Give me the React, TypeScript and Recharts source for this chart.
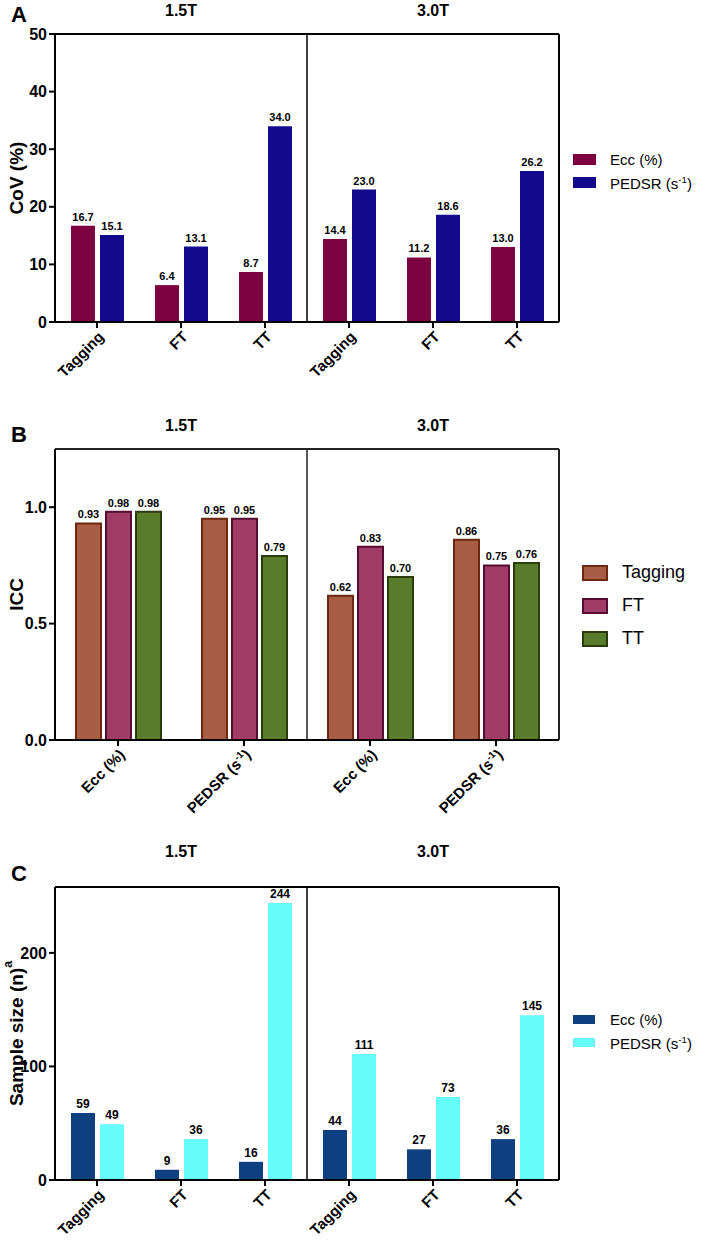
import { BarChart, Bar, XAxis, YAxis, ReferenceLine, LabelList, Label } from 'recharts'

const FONT = '"Liberation Sans", Arial, Helvetica, sans-serif'
const WIDTH = 709

const FIELDS = ['1.5T', '3.0T']
const METHODS = ['Tagging', 'FT', 'TT']
const PARAMS = ['Ecc (%)', 'PEDSR (s^{-1})']

// A: coefficient of variation (%), order = 1.5T Tagging/FT/TT, 3.0T Tagging/FT/TT
const covEcc = [16.7, 6.4, 8.7, 14.4, 11.2, 13.0]
const covPedsr = [15.1, 13.1, 34.0, 23.0, 18.6, 26.2]
const covTicks = [0, 10, 20, 30, 40, 50]

// B: ICC, order = 1.5T Ecc/PEDSR, 3.0T Ecc/PEDSR
const iccTagging = [0.93, 0.95, 0.62, 0.86]
const iccFT = [0.98, 0.95, 0.83, 0.75]
const iccTT = [0.98, 0.79, 0.70, 0.76]
const iccTicks = [0, 0.5, 1.0]

// C: sample size
const nEcc = [59, 9, 16, 44, 27, 36]
const nPedsr = [49, 36, 244, 111, 73, 145]
const nTicks = [0, 100, 200]

const methodRows = (a: number[], b: number[]) =>
  FIELDS.flatMap((f, i) => METHODS.map((m, j) => ({ key: `${f}|${m}`, ecc: a[i * 3 + j], pedsr: b[i * 3 + j] })))

const iccRows = FIELDS.flatMap((f, i) =>
  PARAMS.map((p, j) => ({ key: `${f}|${p}`, tagging: iccTagging[i * 2 + j], ft: iccFT[i * 2 + j], tt: iccTT[i * 2 + j] }))
)

type Series = { key: string; name: string; fill: string; stroke?: string }

const seriesA: Series[] = [
  { key: 'ecc', name: 'Ecc (%)', fill: '#7d0040' },
  { key: 'pedsr', name: 'PEDSR (s^{-1})', fill: '#13098c' },
]
const seriesB: Series[] = [
  { key: 'tagging', name: 'Tagging', fill: '#a85d45', stroke: '#6e2810' },
  { key: 'ft', name: 'FT', fill: '#9f3d66', stroke: '#560c30' },
  { key: 'tt', name: 'TT', fill: '#587c2c', stroke: '#2b3c0c' },
]
const seriesC: Series[] = [
  { key: 'ecc', name: 'Ecc (%)', fill: '#0e3f80' },
  { key: 'pedsr', name: 'PEDSR (s^{-1})', fill: '#66fcfc' },
]

// split "abc^{sup}def" into plain / superscript parts (odd indexes are superscripts)
const richParts = (text: string) => text.split(/\^\{([^}]*)\}/)

function svgRich(text: string, size: number) {
  const out: any[] = []
  const shift = size * 0.4
  richParts(text).forEach((p, i) => {
    if (!p) return
    if (i % 2) out.push(<tspan key={i} fontSize={size * 0.65} dy={-shift}>{p}</tspan>)
    else out.push(<tspan key={i} dy={i > 0 ? shift : undefined}>{p}</tspan>)
  })
  return out
}

function htmlRich(text: string) {
  return richParts(text).map((p, i) => (i % 2 ? <sup key={i} style={{ fontSize: '0.65em' }}>{p}</sup> : <span key={i}>{p}</span>))
}

const AngledTick = (props: any) => {
  const { x, y, payload } = props
  const label = String(payload.value).split('|')[1]
  return (
    <g transform={`translate(${x},${y}) rotate(-45)`}>
      <text x={0} y={11} textAnchor="end" fontSize={15} fontWeight="bold" fill="#000">
        {svgRich(label, 15)}
      </text>
    </g>
  )
}

const yTitle = (text: string, size: number) => (props: any) => {
  const vb = props.viewBox
  const cx = 16
  const cy = vb.y + vb.height / 2
  return (
    <text x={cx} y={cy} transform={`rotate(-90, ${cx}, ${cy})`} textAnchor="middle" dominantBaseline="central" fontSize={size} fontWeight="bold" fill="#000">
      {svgRich(text, size)}
    </text>
  )
}

interface LegendBoxProps {
  series: Series[]
  sw: number
  sh: number
  rowH: number
  textLeft: number
  fontSize: number
  left: number
  top: number
}

function LegendBox({ series, sw, sh, rowH, textLeft, fontSize, left, top }: LegendBoxProps) {
  return (
    <div style={{ position: 'absolute', left, top, fontFamily: FONT, fontSize, color: '#000' }}>
      {series.map(s => (
        <div key={s.key} style={{ display: 'flex', alignItems: 'center', height: rowH }}>
          <span
            style={{
              display: 'inline-block',
              boxSizing: 'border-box',
              width: sw,
              height: sh,
              background: s.fill,
              border: s.stroke ? `2px solid ${s.stroke}` : 'none',
            }}
          />
          <span style={{ marginLeft: textLeft - sw, whiteSpace: 'nowrap' }}>{htmlRich(s.name)}</span>
        </div>
      ))}
    </div>
  )
}

interface PanelProps {
  top: number
  height: number
  letter: string
  letterTop: number
  titleTop: number
  plotTop: number
  axisHeight: number
  data: any[]
  series: Series[]
  yMax: number
  yTicks: number[]
  yFormat: (v: number) => string
  yLabel: string
  yLabelSize: number
  barSize: number
  barGap: number
  valueFormat: (v: number) => string
  valueSize: number
  frameColor: string
  legend: LegendBoxProps
}

const PLOT_LEFT = 55
const PLOT_RIGHT = 559

function Panel(p: PanelProps) {
  const half = (PLOT_RIGHT - PLOT_LEFT) / 2
  // hidden index axis spanning the plot: used for the right frame edge and the 1.5T / 3.0T divider
  const last = p.data.length - 1
  return (
    <div style={{ position: 'absolute', left: 0, top: p.top, width: WIDTH, height: p.height }}>
      <div style={{ position: 'absolute', left: 11, top: p.letterTop, fontSize: 22, lineHeight: '22px', fontWeight: 'bold' }}>{p.letter}</div>
      {FIELDS.map((f, i) => (
        <div
          key={f}
          style={{
            position: 'absolute',
            left: PLOT_LEFT + half * i,
            width: half,
            top: p.titleTop,
            textAlign: 'center',
            fontSize: 16,
            lineHeight: '16px',
            fontWeight: 'bold',
          }}
        >
          {f}
        </div>
      ))}
      <BarChart
        width={WIDTH}
        height={p.height}
        data={p.data}
        margin={{ top: p.plotTop, right: WIDTH - PLOT_RIGHT, bottom: 0, left: 0 }}
        barGap={p.barGap}
      >
        <XAxis
          dataKey="key"
          interval={0}
          height={p.axisHeight}
          tick={<AngledTick />}
          tickLine={{ stroke: '#000', strokeWidth: 2 }}
          tickSize={6}
          tickMargin={2}
          axisLine={{ stroke: '#000', strokeWidth: 2 }}
        />
        <XAxis xAxisId="frame" type="number" domain={[0, last]} allowDataOverflow hide />
        <YAxis
          width={PLOT_LEFT}
          domain={[0, p.yMax]}
          ticks={p.yTicks}
          tickFormatter={p.yFormat}
          interval={0}
          tick={{ fontSize: 16, fontWeight: 'bold', fill: '#000' }}
          tickLine={{ stroke: '#000', strokeWidth: 2 }}
          tickSize={6}
          tickMargin={2}
          axisLine={{ stroke: '#000', strokeWidth: 2 }}
          label={<Label content={yTitle(p.yLabel, p.yLabelSize)} />}
        />
        <ReferenceLine y={p.yMax} stroke={p.frameColor} strokeWidth={2} />
        <ReferenceLine xAxisId="frame" x={last} stroke={p.frameColor} strokeWidth={2} />
        <ReferenceLine xAxisId="frame" x={last / 2} stroke={p.frameColor} strokeWidth={1.5} />
        {p.series.map(s => (
          <Bar
            key={s.key}
            dataKey={s.key}
            name={s.name}
            fill={s.fill}
            stroke={s.stroke}
            strokeWidth={s.stroke ? 2 : 0}
            barSize={p.barSize}
            isAnimationActive={false}
          >
            <LabelList dataKey={s.key} position="top" formatter={(v: any) => p.valueFormat(Number(v))} fontSize={p.valueSize} fontWeight="bold" fill="#000" />
          </Bar>
        ))}
      </BarChart>
      <LegendBox {...p.legend} />
    </div>
  )
}

export default function App() {
  return (
    <div style={{ position: 'relative', width: WIDTH, height: 1246, fontFamily: FONT, color: '#000', background: '#fff' }}>
      <style>{'body{margin:0}'}</style>
      <Panel
        top={0}
        height={400}
        letter="A"
        letterTop={4}
        titleTop={3}
        plotTop={34}
        axisHeight={78}
        data={methodRows(covEcc, covPedsr)}
        series={seriesA}
        yMax={50}
        yTicks={covTicks}
        yFormat={v => String(v)}
        yLabel="CoV (%)"
        yLabelSize={19}
        barSize={24}
        barGap={5}
        valueFormat={v => v.toFixed(1)}
        valueSize={11}
        frameColor="#000"
        legend={{ series: seriesA, sw: 23, sh: 11, rowH: 23, textLeft: 37, fontSize: 15, left: 573, top: 148 }}
      />
      <Panel
        top={400}
        height={440}
        letter="B"
        letterTop={24}
        titleTop={18}
        plotTop={49}
        axisHeight={100}
        data={iccRows}
        series={seriesB}
        yMax={1.25}
        yTicks={iccTicks}
        yFormat={v => v.toFixed(1)}
        yLabel="ICC"
        yLabelSize={19}
        barSize={25}
        barGap={5}
        valueFormat={v => v.toFixed(2)}
        valueSize={11}
        frameColor="#222"
        legend={{ series: seriesB, sw: 26, sh: 16, rowH: 33, textLeft: 40, fontSize: 18, left: 582, top: 156 }}
      />
      <Panel
        top={840}
        height={406}
        letter="C"
        letterTop={23}
        titleTop={4}
        plotTop={47}
        axisHeight={66}
        data={methodRows(nEcc, nPedsr)}
        series={seriesC}
        yMax={258}
        yTicks={nTicks}
        yFormat={v => String(v)}
        yLabel="Sample size (n)^{a}"
        yLabelSize={19}
        barSize={24}
        barGap={5}
        valueFormat={v => String(v)}
        valueSize={12}
        frameColor="#000"
        legend={{ series: seriesC, sw: 22, sh: 9, rowH: 23, textLeft: 37, fontSize: 15, left: 573, top: 168 }}
      />
    </div>
  )
}
